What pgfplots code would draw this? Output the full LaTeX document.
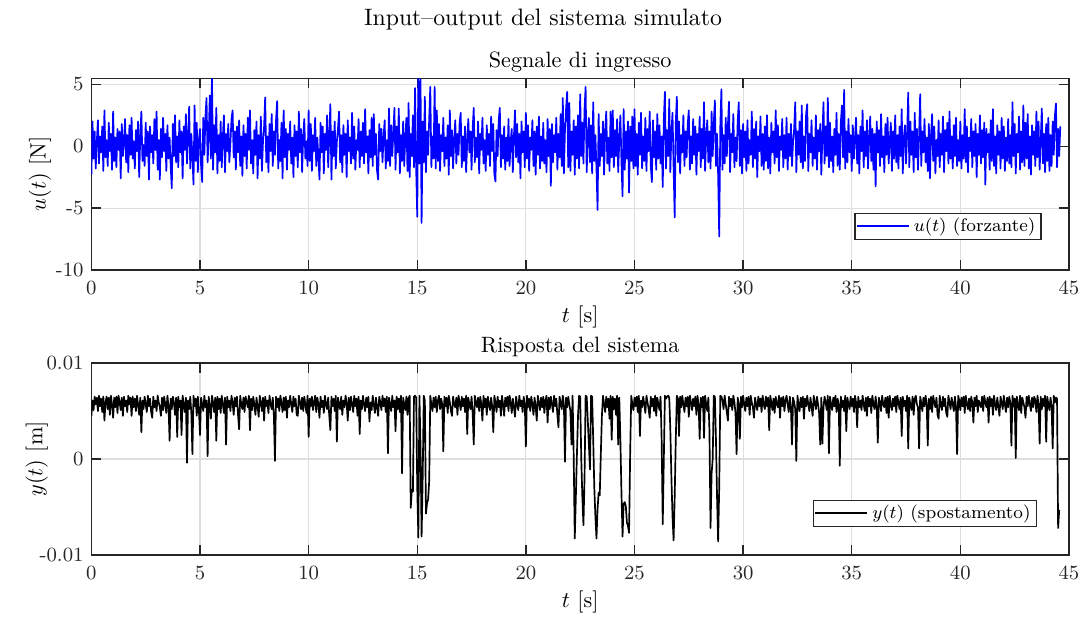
\documentclass[border=0pt]{standalone}
\usepackage{fontspec}
\usepackage{pgfplots}
\pgfplotsset{compat=1.18}
\usepackage{pgfplotstable}

\definecolor{axgray}{gray}{0.15}
\definecolor{gridgray}{gray}{0.87}

% u(t) [N], sampled every 0.05 s from t = 0 (one line = 1 s)
\pgfplotstableread[row sep=\\]{
u\\
-2.3\\ 2.0\\ -1.0\\ 1.2\\ -1.8\\ 0.4\\ 2.1\\ -1.4\\ 0.8\\ -0.5\\ 1.6\\ -2.0\\ 2.9\\ -0.9\\ 0.5\\ -1.6\\ 1.9\\ -0.4\\ 1.0\\ -1.9\\
2.8\\ -1.2\\ 0.7\\ -1.7\\ 1.4\\ -0.3\\ 1.2\\ -2.6\\ 1.8\\ -0.8\\ 0.3\\ 2.2\\ -1.3\\ 0.9\\ -2.1\\ 1.7\\ -0.7\\ 2.3\\ -1.0\\ 0.4\\
-1.8\\ 1.3\\ -0.4\\ 2.0\\ -2.5\\ 0.8\\ 2.8\\ -1.2\\ 0.1\\ -1.6\\ 1.9\\ -0.8\\ 1.2\\ -2.7\\ 1.6\\ -0.5\\ 0.9\\ -1.4\\ 2.2\\ -0.3\\
2.8\\ -1.9\\ 0.5\\ -2.7\\ 1.4\\ -0.9\\ 2.3\\ -0.4\\ 1.0\\ -2.0\\ 1.7\\ -1.0\\ 0.7\\ -1.6\\ -3.4\\ 1.8\\ -0.8\\ 2.5\\ -1.3\\ 0.8\\
-1.7\\ 2.1\\ -0.5\\ 1.2\\ -2.6\\ 1.6\\ -0.3\\ 2.6\\ -1.4\\ 0.7\\ 3.2\\ -1.8\\ 1.0\\ -0.8\\ -3.1\\ 3.3\\ -1.2\\ 1.9\\ -2.1\\ 0.5\\
1.4\\ -1.6\\ -2.9\\ 2.3\\ -0.7\\ 2.4\\ 3.9\\ -1.3\\ 0.8\\ 4.1\\ -1.0\\ 5.7\\ -1.9\\ 1.7\\ -0.5\\ 3.1\\ -2.2\\ 0.9\\ -1.2\\ 2.0\\
-1.7\\ 0.7\\ 2.5\\ -2.1\\ 1.0\\ -0.4\\ 1.8\\ -1.3\\ 0.3\\ 2.2\\ 2.9\\ -0.9\\ 1.2\\ -1.9\\ 1.6\\ -0.5\\ 2.1\\ -1.6\\ 0.8\\ -2.4\\
1.7\\ -0.8\\ 1.0\\ -1.8\\ 2.3\\ -0.3\\ 2.9\\ -1.4\\ 0.5\\ -2.2\\ 1.3\\ -0.7\\ 2.0\\ -2.6\\ 0.9\\ -1.0\\ 2.4\\ -2.0\\ 0.4\\ 1.6\\
3.95\\ -1.3\\ 0.8\\ -2.1\\ 1.8\\ -0.4\\ 2.6\\ -1.6\\ 1.2\\ -0.7\\ 2.1\\ 3.65\\ -1.8\\ 0.5\\ -1.2\\ 1.9\\ -2.6\\ 2.9\\ -0.9\\ 1.4\\
-1.9\\ 1.0\\ -0.3\\ 2.0\\ -1.4\\ 0.7\\ -2.5\\ 1.7\\ -0.8\\ 1.2\\ -1.7\\ 2.8\\ -0.5\\ 1.4\\ -2.1\\ 0.8\\ 2.2\\ -1.0\\ 0.4\\ -1.6\\
2.9\\ -1.2\\ 1.8\\ -2.0\\ 0.9\\ -0.4\\ 2.3\\ -1.6\\ 0.7\\ -0.9\\ -2.7\\ 1.9\\ -0.5\\ 1.6\\ -2.2\\ 1.0\\ -0.3\\ 2.5\\ -1.7\\ 0.8\\
3.4\\ -2.7\\ 1.2\\ -0.8\\ 2.0\\ -1.8\\ 0.4\\ 1.4\\ 2.8\\ -1.3\\ 0.9\\ -2.1\\ 1.7\\ -0.7\\ 1.0\\ -2.5\\ 2.1\\ -0.4\\ 0.7\\ -1.4\\
2.7\\ -1.0\\ 1.6\\ -1.9\\ 0.5\\ -0.3\\ 2.2\\ -1.7\\ 1.2\\ -0.8\\ 1.9\\ -1.4\\ 3.0\\ -0.5\\ 0.8\\ -2.2\\ 1.3\\ -0.9\\ 2.3\\ -1.6\\
2.6\\ -0.7\\ 1.0\\ -2.0\\ -2.7\\ 1.8\\ -0.4\\ 1.4\\ -1.3\\ 0.8\\ 2.1\\ -1.8\\ 0.5\\ -1.2\\ 3.05\\ -1.6\\ 1.7\\ -0.8\\ 1.2\\ 3.1\\
-1.9\\ 1.6\\ -0.5\\ 3.05\\ -2.2\\ 0.9\\ -1.2\\ 2.0\\ -1.6\\ 0.7\\ 2.3\\ -2.0\\ 3.5\\ -2.5\\ 1.0\\ -0.8\\ 2.5\\ -1.7\\ 4.7\\ -1.8\\
-5.7\\ 5.7\\ -1.4\\ 5.4\\ -6.2\\ 2.0\\ -1.3\\ 4.0\\ -2.1\\ 1.2\\ -0.7\\ 2.2\\ 4.8\\ -1.7\\ 0.8\\ -1.0\\ 4.8\\ -1.8\\ 2.9\\ -1.2\\
1.8\\ -2.0\\ 0.9\\ -0.4\\ 2.3\\ -1.6\\ 0.7\\ -1.0\\ 1.7\\ -2.3\\ 2.9\\ -0.8\\ 1.3\\ -1.8\\ 0.5\\ 2.1\\ -1.4\\ 1.0\\ -0.7\\ 1.9\\
2.7\\ -1.7\\ 0.8\\ -1.2\\ 1.6\\ -2.1\\ 0.4\\ 2.2\\ -0.5\\ 1.2\\ -1.9\\ 1.4\\ 3.1\\ -1.3\\ 0.7\\ -0.9\\ 2.0\\ -2.2\\ 1.0\\ -0.3\\
2.3\\ -1.4\\ 0.5\\ -2.0\\ 1.7\\ -0.7\\ 1.0\\ -1.6\\ 2.4\\ -0.4\\ 1.8\\ -2.3\\ -2.85\\ 1.3\\ -0.8\\ 2.1\\ 3.1\\ -1.7\\ 0.9\\ -1.0\\
1.6\\ -1.9\\ 0.7\\ -1.2\\ 2.2\\ -1.6\\ 0.4\\ 1.4\\ -2.1\\ 0.8\\ 2.9\\ -0.9\\ 1.8\\ -1.3\\ 1.0\\ -2.6\\ 2.0\\ -0.5\\ 1.2\\ -1.7\\
2.7\\ -1.0\\ 1.7\\ -2.0\\ 0.7\\ -0.3\\ 2.1\\ -1.6\\ 1.2\\ -2.3\\ 1.6\\ -0.7\\ 2.4\\ -1.8\\ 0.8\\ -1.2\\ 1.9\\ -1.4\\ 0.5\\ -2.1\\
2.2\\ -0.8\\ 1.4\\ -3.2\\ 1.8\\ -1.3\\ 0.9\\ -0.5\\ 2.3\\ -1.9\\ 1.0\\ -0.9\\ 2.6\\ -1.6\\ 3.9\\ -2.2\\ 1.3\\ 3.0\\ 4.4\\ -1.7\\
3.5\\ -2.0\\ 1.2\\ -0.7\\ 2.1\\ -2.3\\ 1.6\\ -1.0\\ 2.5\\ -1.8\\ 4.2\\ -0.8\\ 1.9\\ -1.4\\ 3.0\\ 4.8\\ -2.1\\ 0.8\\ 2.3\\ -1.3\\
1.7\\ -2.2\\ 3.55\\ -1.2\\ 0.9\\ -1.8\\ -5.15\\ 2.6\\ -1.6\\ 1.0\\ -0.8\\ 2.0\\ -2.3\\ 1.2\\ 2.8\\ -1.4\\ 0.7\\ -2.0\\ 2.8\\ -0.9\\
2.9\\ -1.7\\ 1.3\\ -0.8\\ 2.2\\ -2.1\\ 0.5\\ 2.5\\ -1.3\\ -4.05\\ 3.0\\ -1.9\\ 1.2\\ -1.0\\ 2.0\\ -3.75\\ 1.6\\ -1.2\\ 2.4\\ -1.8\\
3.0\\ -1.6\\ 1.0\\ -2.3\\ 1.9\\ -0.7\\ 2.7\\ -1.8\\ 0.8\\ -1.2\\ 2.3\\ -2.0\\ 1.4\\ -0.4\\ 2.8\\ -1.6\\ -2.9\\ 2.1\\ -0.9\\ 1.2\\
-1.9\\ 2.6\\ -1.0\\ 1.7\\ -1.4\\ 0.8\\ -3.3\\ 2.2\\ 4.4\\ -1.8\\ 1.3\\ -0.8\\ 3.8\\ -2.1\\ 1.2\\ 2.7\\ -1.7\\ -5.75\\ 1.9\\ 4.0\\
-1.3\\ 2.0\\ -2.2\\ 0.9\\ -0.5\\ 2.5\\ -1.6\\ 1.2\\ -0.9\\ 1.8\\ 2.9\\ -1.9\\ 0.8\\ -1.4\\ 2.2\\ -0.7\\ 1.6\\ -2.3\\ 1.0\\ -0.4\\
2.4\\ -1.7\\ 1.4\\ -1.0\\ 3.55\\ -2.0\\ 0.7\\ 2.1\\ -1.3\\ 1.2\\ -1.8\\ 2.8\\ -0.8\\ 1.9\\ 3.7\\ -1.6\\ 1.0\\ -2.3\\ -7.3\\ 1.6\\
4.6\\ -1.9\\ 0.9\\ -1.4\\ 2.3\\ -0.8\\ 1.7\\ 3.6\\ -2.1\\ 1.0\\ -0.5\\ 2.6\\ -1.7\\ 0.7\\ -1.2\\ 2.0\\ 3.55\\ -1.6\\ 1.3\\ -2.2\\
1.8\\ -0.9\\ 1.2\\ -2.0\\ 2.1\\ -1.4\\ 0.5\\ -0.7\\ 2.8\\ -1.7\\ 1.4\\ -1.0\\ 2.0\\ -2.5\\ 0.8\\ -0.4\\ 2.4\\ -1.6\\ 1.0\\ -1.9\\
1.6\\ -1.2\\ 2.5\\ -1.8\\ 0.7\\ -2.2\\ 1.9\\ -0.5\\ 1.2\\ -1.4\\ 2.9\\ -0.9\\ 1.7\\ -2.0\\ 0.8\\ -0.3\\ 2.2\\ -1.7\\ 0.9\\ -1.0\\
2.3\\ -1.9\\ 1.0\\ -0.8\\ 1.8\\ -1.6\\ 0.4\\ 1.4\\ 3.55\\ -2.1\\ 1.2\\ -0.7\\ 2.0\\ -1.3\\ 3.3\\ -1.8\\ 0.8\\ -1.2\\ 2.6\\ 3.4\\
-2.0\\ 1.0\\ -0.5\\ 2.1\\ -1.6\\ 0.7\\ -1.0\\ 2.5\\ -1.9\\ 1.3\\ -0.4\\ 1.8\\ -2.3\\ 0.9\\ 3.55\\ -1.4\\ 1.6\\ -0.8\\ 3.9\\ -1.7\\
1.9\\ -1.2\\ 0.8\\ -2.1\\ 1.4\\ -0.7\\ 2.7\\ -1.6\\ 1.0\\ -1.9\\ 2.0\\ 3.3\\ -0.9\\ 4.55\\ -1.8\\ 1.2\\ -1.3\\ 2.2\\ -0.5\\ 0.9\\
-2.0\\ 1.7\\ -1.0\\ 0.7\\ 2.3\\ -1.4\\ 0.9\\ -2.2\\ 1.6\\ -0.4\\ 2.9\\ -1.7\\ 1.2\\ -0.8\\ 2.1\\ -1.8\\ 0.5\\ 2.4\\ -1.2\\ 1.4\\
-1.9\\ 1.0\\ -3.25\\ 2.0\\ -0.5\\ 1.3\\ -1.6\\ 2.6\\ -0.9\\ 0.8\\ -2.1\\ 1.8\\ -0.7\\ 2.3\\ -1.4\\ 0.4\\ 1.9\\ -2.0\\ 1.2\\ -1.0\\
2.5\\ -1.3\\ 0.9\\ -1.8\\ 1.6\\ -0.8\\ 3.0\\ -2.2\\ 0.7\\ 1.7\\ -1.4\\ 1.0\\ 4.35\\ -1.7\\ 2.0\\ -0.7\\ 1.2\\ -2.1\\ 2.7\\ -0.9\\
1.4\\ -1.9\\ 0.8\\ 4.2\\ -1.6\\ 1.2\\ -0.5\\ 2.2\\ -1.3\\ 0.7\\ -2.0\\ 1.8\\ -2.6\\ 0.9\\ 2.6\\ -1.2\\ 1.6\\ -2.2\\ 0.5\\ -0.8\\
2.1\\ -1.7\\ 1.0\\ -0.7\\ 2.4\\ -2.1\\ 1.3\\ -0.4\\ 1.9\\ -1.4\\ 2.8\\ -1.0\\ 0.8\\ -1.8\\ 1.7\\ -0.8\\ 2.3\\ -1.6\\ 0.5\\ -1.2\\
2.0\\ -1.8\\ 0.9\\ -1.0\\ 3.0\\ -1.3\\ 1.6\\ -2.1\\ 0.7\\ -0.4\\ 2.2\\ -1.7\\ 1.2\\ -0.8\\ 1.8\\ -2.5\\ 1.0\\ -0.7\\ 2.5\\ -1.4\\
1.3\\ -0.9\\ 1.9\\ -3.1\\ 1.4\\ -0.5\\ 1.0\\ -1.9\\ 2.1\\ -1.2\\ 3.0\\ -1.6\\ 0.8\\ -2.2\\ 1.7\\ -0.7\\ 1.2\\ -1.8\\ 2.3\\ -1.0\\
1.6\\ -2.0\\ 0.7\\ -1.2\\ 2.2\\ -1.4\\ 0.9\\ -1.7\\ 3.55\\ -0.8\\ 1.8\\ -2.2\\ 1.0\\ -0.5\\ 2.4\\ -1.9\\ 1.2\\ -1.3\\ 3.3\\ -1.6\\
1.9\\ -1.0\\ 2.6\\ -1.8\\ 0.8\\ -2.3\\ 1.7\\ -0.7\\ 1.2\\ -1.6\\ 2.8\\ -0.9\\ 2.0\\ -1.9\\ 0.5\\ 3.05\\ -1.4\\ 1.0\\ -2.1\\ 1.8\\
-1.2\\ 2.3\\ -2.0\\ 0.9\\ -1.6\\ 2.0\\ -0.7\\ 2.4\\ 3.45\\ -1.7\\ 1.4\\ -0.8\\ 1.6\\
}\utable

% y(t) in mm (axis labelled in m), sampled every 0.05 s from t = 0
\pgfplotstableread[row sep=\\]{
y\\
4.5\\ 6.1\\ 5.1\\ 6.5\\ 5.7\\ 6.4\\ 5.0\\ 6.6\\ 5.5\\ 6.3\\ 4.9\\ 6.5\\ 4.0\\ 5.9\\ 6.5\\ 5.2\\ 6.4\\ 4.6\\ 6.6\\ 5.7\\
4.3\\ 6.4\\ 5.4\\ 6.5\\ 4.8\\ 6.6\\ 5.9\\ 5.1\\ 6.4\\ 4.5\\ 6.5\\ 5.5\\ 6.1\\ 4.9\\ 6.6\\ 5.7\\ 6.4\\ 4.5\\ 6.5\\ 5.4\\
6.3\\ 5.0\\ 6.6\\ 5.7\\ 4.6\\ 6.4\\ 2.8\\ 6.1\\ 5.2\\ 6.5\\ 5.7\\ 4.9\\ 6.6\\ 5.5\\ 6.3\\ 4.9\\ 4.3\\ 6.5\\ 5.4\\ 6.1\\
5.0\\ 6.6\\ 5.9\\ 5.4\\ 4.5\\ 6.4\\ 5.1\\ 6.5\\ 5.7\\ 4.8\\ 6.6\\ 5.5\\ 1.9\\ 6.3\\ 5.2\\ 6.5\\ 5.9\\ 4.6\\ 6.4\\ 2.3\\
6.5\\ 5.4\\ 6.1\\ 2.5\\ 6.6\\ 5.7\\ 4.9\\ 6.4\\ -0.4\\ 6.1\\ 5.2\\ 6.5\\ 4.8\\ 0.5\\ 6.6\\ 5.5\\ 6.3\\ 4.5\\ 6.5\\ 5.1\\
2.5\\ 6.4\\ 5.7\\ 5.0\\ 6.6\\ 5.4\\ 6.1\\ 0.3\\ 6.5\\ 5.5\\ 4.2\\ 6.6\\ 5.9\\ 4.9\\ 6.4\\ 1.9\\ 6.5\\ 5.2\\ 6.3\\ 4.8\\
6.6\\ 5.7\\ 4.8\\ 6.4\\ 1.5\\ 6.5\\ 5.4\\ 6.1\\ 5.0\\ 6.6\\ 5.9\\ 4.6\\ 6.4\\ 5.5\\ 6.5\\ 4.6\\ 3.1\\ 6.6\\ 5.7\\ 5.2\\
6.4\\ 4.9\\ 6.5\\ 5.9\\ 5.4\\ 6.6\\ 3.0\\ 6.3\\ 5.1\\ 6.5\\ 5.7\\ 4.6\\ 6.4\\ 5.5\\ 4.4\\ 6.6\\ 5.9\\ 5.0\\ 6.4\\ 4.0\\
6.5\\ 5.5\\ 6.1\\ 4.8\\ 6.6\\ 5.7\\ 5.2\\ 6.4\\ 4.5\\ -0.2\\ 6.5\\ 5.4\\ 6.3\\ 5.0\\ 6.6\\ 5.9\\ 4.9\\ 6.4\\ 5.1\\ 6.5\\
4.3\\ 6.1\\ 5.4\\ 6.6\\ 5.7\\ 4.9\\ 6.5\\ 5.5\\ 6.3\\ 4.6\\ 4.5\\ 6.6\\ 5.9\\ 5.2\\ 6.4\\ 5.0\\ 6.5\\ 5.7\\ 4.8\\ 6.6\\
2.3\\ 6.3\\ 5.5\\ 6.5\\ 5.1\\ 5.9\\ 6.6\\ 4.9\\ 6.4\\ 5.7\\ 4.3\\ 6.5\\ 5.4\\ 6.1\\ 4.8\\ 6.6\\ 5.7\\ 5.2\\ 6.4\\ 4.5\\
3.0\\ 6.5\\ 5.5\\ 6.3\\ 5.0\\ 6.6\\ 1.8\\ 6.4\\ 5.7\\ 5.2\\ 6.5\\ 4.6\\ 6.1\\ 5.4\\ 6.6\\ 5.9\\ 4.0\\ 6.4\\ 5.1\\ 6.5\\
5.7\\ 4.9\\ 6.6\\ 5.5\\ 6.3\\ 4.5\\ 6.5\\ 2.6\\ 6.1\\ 5.2\\ 6.6\\ 5.7\\ 5.0\\ 6.4\\ 5.4\\ 6.5\\ 3.9\\ 5.9\\ 5.1\\ 6.6\\
5.7\\ 4.8\\ 6.4\\ 5.4\\ 4.5\\ 6.5\\ 5.9\\ 5.1\\ 6.6\\ 5.5\\ 6.3\\ 4.9\\ 6.5\\ 0.6\\ 6.4\\ 5.7\\ 5.0\\ 6.6\\ 5.4\\ 6.1\\
2.9\\ 6.5\\ 5.2\\ 6.3\\ 4.9\\ 6.6\\ -1.5\\ 6.4\\ 5.7\\ 5.1\\ 6.5\\ 4.6\\ 6.3\\ 6.6\\ -5.1\\ -3.2\\ -3.4\\ 6.5\\ 6.6\\ 6.4\\
-3.0\\ -8.2\\ 6.6\\ 1.5\\ -8.1\\ -2.0\\ 6.6\\ 6.1\\ -5.7\\ -4.6\\ -4.2\\ -2.3\\ 6.6\\ 5.7\\ 5.0\\ 6.4\\ 5.4\\ 6.5\\ 4.9\\ 6.1\\
6.6\\ 5.2\\ 6.3\\ 5.7\\ 0.8\\ 6.5\\ 5.5\\ 6.4\\ 4.8\\ 6.6\\ 5.9\\ 5.0\\ 4.5\\ 6.5\\ 5.7\\ 5.4\\ 6.4\\ 4.6\\ 6.6\\ 5.9\\
5.1\\ 6.5\\ 5.5\\ 6.3\\ 4.9\\ 6.6\\ 2.6\\ 6.4\\ 5.7\\ 5.2\\ 6.5\\ 4.8\\ 1.5\\ 6.6\\ 5.9\\ 5.4\\ 6.4\\ 5.0\\ 6.5\\ 5.7\\
4.0\\ 6.6\\ 5.4\\ 6.3\\ 4.6\\ 6.5\\ 5.7\\ 5.1\\ 6.4\\ 5.5\\ 2.8\\ 6.6\\ 5.9\\ 4.9\\ 6.5\\ 5.4\\ 6.1\\ 4.5\\ 6.6\\ 5.7\\
4.5\\ 6.4\\ 5.5\\ 6.5\\ 5.0\\ 6.6\\ 5.9\\ 4.8\\ 6.3\\ 5.4\\ 4.4\\ 6.5\\ 5.7\\ 5.1\\ 6.6\\ 5.5\\ 6.1\\ 4.9\\ 6.5\\ 5.7\\
1.3\\ 6.6\\ 5.4\\ 6.3\\ 5.0\\ 6.5\\ 5.7\\ 4.6\\ 6.4\\ 5.5\\ 4.0\\ 6.6\\ 5.9\\ 5.1\\ 6.4\\ 5.4\\ 6.5\\ 4.8\\ 6.1\\ 6.6\\
3.8\\ 6.4\\ 5.2\\ 6.5\\ 5.7\\ 4.9\\ 6.6\\ 5.5\\ 6.3\\ 4.6\\ 3.3\\ 6.5\\ 5.9\\ 5.2\\ 6.6\\ 5.7\\ -0.3\\ 6.4\\ 5.4\\ 6.5\\
5.7\\ 5.0\\ 1.5\\ 6.6\\ 0.5\\ -8.3\\ -4.0\\ 0.5\\ 4.5\\ 6.6\\ 6.5\\ 0.0\\ -4.0\\ -6.9\\ -2.0\\ 6.6\\ 6.5\\ 4.0\\ 1.5\\ -1.1\\
6.6\\ 6.5\\ 2.0\\ -3.0\\ -6.0\\ -8.3\\ -5.2\\ -3.5\\ -3.8\\ 0.5\\ 4.5\\ 6.6\\ 5.7\\ 4.9\\ 6.5\\ 5.4\\ 6.3\\ 4.2\\ 6.6\\ 2.0\\
6.5\\ 5.2\\ 6.3\\ 4.6\\ 6.6\\ 1.5\\ 6.4\\ 2.0\\ -3.5\\ -8.1\\ -4.7\\ -4.5\\ -4.9\\ -6.6\\ -7.0\\ -7.7\\ 0.5\\ 6.6\\ 5.7\\ 5.1\\
6.4\\ 5.5\\ 6.5\\ 4.9\\ 6.6\\ 2.4\\ 6.1\\ 5.4\\ 6.5\\ 5.7\\ 4.8\\ 6.6\\ 5.9\\ 5.2\\ 4.3\\ 6.5\\ 5.5\\ 6.3\\ 5.0\\ 6.6\\
4.5\\ 6.4\\ 5.7\\ 5.1\\ 6.5\\ 2.0\\ -6.8\\ 0.0\\ 6.6\\ 6.3\\ 6.5\\ 6.6\\ 6.4\\ 3.0\\ -2.0\\ -6.0\\ -8.5\\ -4.0\\ 2.0\\ 6.6\\
6.3\\ 2.4\\ 6.5\\ 5.4\\ 6.6\\ 5.7\\ 4.9\\ 6.4\\ 5.5\\ 6.5\\ 4.4\\ 6.6\\ 5.9\\ 5.1\\ 6.3\\ 5.5\\ 6.5\\ 4.6\\ 6.6\\ 5.7\\
2.1\\ 6.4\\ 5.4\\ 6.5\\ 2.2\\ 6.6\\ 5.7\\ 5.0\\ 6.4\\ 3.0\\ -7.2\\ -1.5\\ 0.0\\ 6.6\\ 6.5\\ 2.0\\ -4.0\\ -8.6\\ -3.0\\ 6.6\\
6.5\\ 6.1\\ 5.2\\ 6.6\\ 5.7\\ 4.9\\ 4.0\\ 6.5\\ 5.5\\ 6.3\\ 5.1\\ 6.6\\ 5.9\\ 4.8\\ 0.5\\ 6.4\\ 5.7\\ 2.1\\ 6.5\\ 5.4\\
6.6\\ 5.7\\ 5.0\\ 6.4\\ 5.5\\ 6.5\\ 4.6\\ 6.6\\ 5.9\\ 5.4\\ 4.3\\ 6.4\\ 5.7\\ 5.1\\ 6.5\\ 5.5\\ 6.3\\ 4.9\\ 6.6\\ 5.7\\
5.2\\ 6.5\\ 5.5\\ 6.4\\ 3.0\\ 6.6\\ 5.9\\ 5.1\\ 6.3\\ 4.8\\ 6.5\\ 5.7\\ 5.4\\ 6.6\\ 4.3\\ 6.4\\ 5.5\\ 6.5\\ 5.0\\ 6.1\\
6.6\\ 5.7\\ 4.9\\ 6.5\\ 5.5\\ 1.5\\ 6.4\\ 5.9\\ 5.2\\ -0.2\\ 6.6\\ 5.7\\ 5.0\\ 6.4\\ 5.4\\ 6.5\\ 4.2\\ 6.3\\ 5.5\\ 6.6\\
5.7\\ 5.0\\ 6.4\\ 5.5\\ 4.5\\ 6.6\\ 5.9\\ 5.2\\ 6.5\\ 5.7\\ 4.8\\ 1.5\\ 6.4\\ 1.6\\ 5.4\\ 6.5\\ 5.9\\ 5.1\\ 6.6\\ 0.6\\
6.5\\ 5.7\\ 5.1\\ 6.4\\ 5.5\\ 6.6\\ 4.9\\ 6.3\\ 5.7\\ -0.7\\ 6.5\\ 5.4\\ 6.1\\ 5.0\\ 6.6\\ 2.9\\ 6.4\\ 5.7\\ 5.2\\ 6.5\\
5.5\\ 6.3\\ 4.9\\ 6.6\\ 5.9\\ 3.3\\ 6.5\\ 5.4\\ 6.1\\ 5.1\\ 6.6\\ 5.7\\ 5.0\\ 6.4\\ 4.5\\ 6.5\\ 5.5\\ 6.3\\ 4.8\\ 6.6\\
5.7\\ 5.2\\ 6.5\\ 5.5\\ 1.7\\ 6.4\\ 5.9\\ 5.0\\ 6.6\\ 5.7\\ 5.4\\ 6.4\\ 4.8\\ 6.5\\ 4.3\\ 6.6\\ 5.7\\ 5.1\\ 6.3\\ 5.5\\
6.5\\ 4.9\\ 6.6\\ 5.9\\ 5.2\\ 6.4\\ 2.4\\ 6.5\\ 5.5\\ 6.1\\ 5.0\\ 6.6\\ 1.1\\ 6.4\\ 5.7\\ 5.1\\ 6.5\\ 4.6\\ 6.3\\ 6.6\\
5.7\\ 5.4\\ 1.1\\ 6.5\\ 5.9\\ 5.0\\ 6.4\\ 5.5\\ 6.6\\ 5.7\\ 1.4\\ 6.3\\ 5.2\\ 6.5\\ 4.9\\ 6.6\\ 5.9\\ 5.4\\ 6.4\\ 4.6\\
4.2\\ 6.6\\ 5.7\\ 5.1\\ 6.5\\ 5.5\\ 6.3\\ 4.8\\ 4.4\\ 6.6\\ 5.9\\ 5.2\\ 6.4\\ 5.7\\ 5.0\\ 6.5\\ 5.4\\ 0.5\\ 6.6\\ 6.1\\
5.1\\ 6.4\\ 5.5\\ 6.5\\ 4.8\\ 6.6\\ 5.7\\ 5.2\\ 6.3\\ 5.0\\ 6.5\\ 5.9\\ 3.8\\ 6.4\\ 5.5\\ 6.6\\ 4.9\\ 6.1\\ 5.7\\ 5.4\\
6.5\\ 5.0\\ 6.6\\ 5.9\\ 5.4\\ 6.4\\ 3.8\\ 6.5\\ 5.5\\ 6.3\\ 4.6\\ 6.6\\ 5.7\\ 5.1\\ 6.4\\ 5.5\\ 4.5\\ 6.5\\ 5.9\\ 5.2\\
6.6\\ 5.7\\ 4.9\\ 6.4\\ 5.4\\ 6.5\\ 5.9\\ 1.4\\ 6.6\\ 5.5\\ 6.3\\ 0.1\\ 6.5\\ 5.7\\ 5.1\\ 6.6\\ 4.8\\ 6.4\\ 5.9\\ 5.4\\
4.3\\ 6.5\\ 5.5\\ 6.6\\ 5.7\\ 5.0\\ 6.4\\ 5.4\\ 6.5\\ 6.1\\ 4.9\\ 6.6\\ 5.7\\ 1.6\\ 6.5\\ 5.2\\ 6.3\\ 5.5\\ 6.6\\ 1.8\\
6.5\\ 5.7\\ 5.1\\ 6.4\\ 5.5\\ 1.1\\ 6.6\\ 5.9\\ 6.4\\ 6.3\\ -7.2\\ -5.3\\
}\ytable

\pgfplotsset{
  myax/.style={
    scale only axis, width=436.4pt, height=85.6pt, anchor=south west,
    xmin=0, xmax=45, xtick={0,5,...,45},
    enlargelimits=false,
    axis line style={axgray, line width=0.6pt},
    every tick/.style={axgray, line width=0.6pt},
    major tick length=4.4pt,
    tick align=inside, tick pos=both,
    grid=major,
    major grid style={gridgray, line width=0.5pt},
    ticklabel style={font=\fontsize{9}{10}\selectfont, text=axgray},
    xticklabel style={yshift=-1.5pt},
    label style={font=\fontsize{9.9}{11}\selectfont},
    xlabel={$t$ [s]},
    xlabel style={at={(axis description cs:0.5,0)}, anchor=center, yshift=-21pt},
    title style={at={(axis description cs:0.5,1)}, anchor=base, yshift=-1.4pt, font=\fontsize{9.9}{11}\selectfont},
    legend cell align=left,
    legend style={draw=axgray, line width=0.5pt, fill=white, font=\fontsize{8.1}{9}\selectfont, inner xsep=0.5pt, inner ysep=0pt, anchor=south east},
    legend image code/.code={\draw[##1] (0pt,0pt) -- (23pt,0pt);},
  }
}

\begin{document}
\begin{tikzpicture}
\useasboundingbox (0,0) rectangle (484.8pt,276.3pt);
\node[anchor=base, font=\fontsize{10.6}{12}\selectfont] at (242.4pt,264.7pt) {Input--output del sistema simulato};

\begin{axis}[myax, at={(40.8pt,155.8pt)},
  ymin=-10, ymax=5.5, ytick={-10,-5,0,5}, yticklabels={-10,-5,0,5},
  ylabel={$u(t)$ [N]},
  ylabel style={at={(axis description cs:-0.0525,0.5)}, anchor=center},
  title={Segnale di ingresso},
  legend style={at={(0.972,0.157)}}]
\addplot[color=blue, line width=0.75pt, line join=round] table[x expr=\coordindex*0.05, y=u] {\utable};
\addlegendentry{$u(t)$ (forzante)}
\end{axis}

\begin{axis}[myax, at={(40.8pt,28.6pt)},
  ymin=-10, ymax=10, ytick={-10,0,10}, yticklabels={-0.01,0,0.01},
  ylabel={$y(t)$ [m]},
  ylabel style={at={(axis description cs:-0.056,0.5)}, anchor=center},
  title={Risposta del sistema},
  legend style={at={(0.967,0.147)}}]
\addplot[color=black, line width=0.75pt, line join=round] table[x expr=\coordindex*0.05, y=y] {\ytable};
\addlegendentry{$y(t)$ (spostamento)}
\end{axis}
\end{tikzpicture}
\end{document}
